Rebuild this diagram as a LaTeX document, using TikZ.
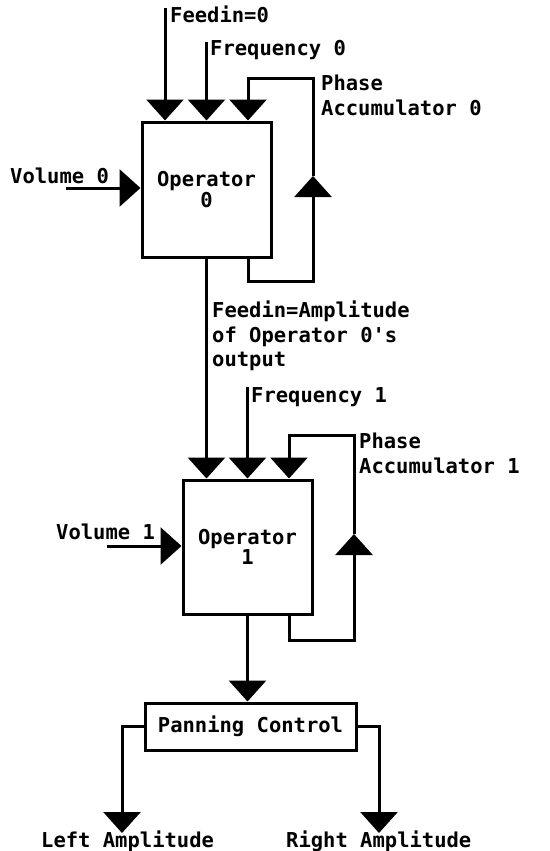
\documentclass[tikz,border=0pt]{standalone}
\usepackage{fontspec}
\setmonofont{DejaVu Sans Mono}
\usetikzlibrary{arrows.meta}
\newcommand\diagfont{\ttfamily\bfseries\fontsize{20.5}{19}\selectfont}
\begin{document}
\begin{tikzpicture}[x=1pt,y=-1pt,
  wire/.style={line width=3pt, line join=miter},
  arr/.style={wire, -{Triangle[length=21pt,width=37pt]}},
  blk/.style={draw, line width=3pt, inner sep=0pt, align=center, font=\diagfont},
  lbl/.style={inner sep=0pt, anchor=base west, font=\diagfont}]
\useasboundingbox (0,0) rectangle (549,851);

% blocks
\node[blk, minimum width=129pt, minimum height=135pt] (op0) at (206.5,189.5) {Operator\\0};
\node[blk, minimum width=129pt, minimum height=134pt] (op1) at (247.5,547) {Operator\\1};
\node[blk, minimum width=211pt, minimum height=47pt] (pan) at (250.5,726.5) {Panning Control};

% labels
\node[lbl] (lfeed0) at (170,23) {Feedin=0};
\node[lbl] (lfreq0) at (210,56) {Frequency 0};
\node[lbl] (lph0a) at (321,90) {Phase};
\node[lbl] (lph0b) at (321,115) {Accumulator 0};
\node[lbl] (lvol0) at (10,183) {Volume 0};
\node[lbl] (lfeed1a) at (212,317) {Feedin=Amplitude};
\node[lbl] (lfeed1b) at (212,342) {of Operator 0's};
\node[lbl] (lfeed1c) at (212,366) {output};
\node[lbl] (lfreq1) at (251,402) {Frequency 1};
\node[lbl] (lph1a) at (359,448) {Phase};
\node[lbl] (lph1b) at (359,473) {Accumulator 1};
\node[lbl] (lvol1) at (56,539) {Volume 1};
\node[lbl] (lleft) at (41,847) {Left Amplitude};
\node[lbl] (lright) at (286,847) {Right Amplitude};

% free ends of the input wires
\coordinate (feed0) at (165,8);
\coordinate (freq0) at (206.5,42);
\coordinate (vol0) at (66,188);
\coordinate (freq1) at (247.5,387);
\coordinate (vol1) at (107,546);

% operator 0 inputs
\draw[arr] (feed0) -- (feed0 |- op0.north);
\draw[arr] (freq0) -- (op0.north);
\draw[arr] (vol0) -- (vol0 -| op0.west);

% phase accumulator 0 loop
\coordinate (pa0) at (248,257);
\coordinate (pa0up) at (313,176);
\draw[wire] (pa0) |- (313,281) -- ++(0,-60);
\draw[arr] (313,230) -- (pa0up);
\draw[arr] (pa0up) -- (313,78) -| (pa0 |- op0.north);

% operator 0 feeds operator 1
\draw[arr] (op0.south) -- (op0.south |- op1.north);

% operator 1 inputs
\draw[arr] (freq1) -- (op1.north);
\draw[arr] (vol1) -- (vol1 -| op1.west);

% phase accumulator 1 loop
\coordinate (pa1) at (289,614);
\coordinate (pa1up) at (354,534);
\draw[wire] (pa1) |- (354,640) -- ++(0,-60);
\draw[arr] (354,590) -- (pa1up);
\draw[arr] (pa1up) -- (354,435) -| (pa1 |- op1.north);

% output to panning
\draw[arr] (op1.south) -- (op1.south |- pan.north);
\coordinate (outl) at (122,833);
\coordinate (outr) at (379,833);
\draw[arr] (pan.west) -| (outl);
\draw[arr] (pan.east) -| (outr);
\end{tikzpicture}
\end{document}
